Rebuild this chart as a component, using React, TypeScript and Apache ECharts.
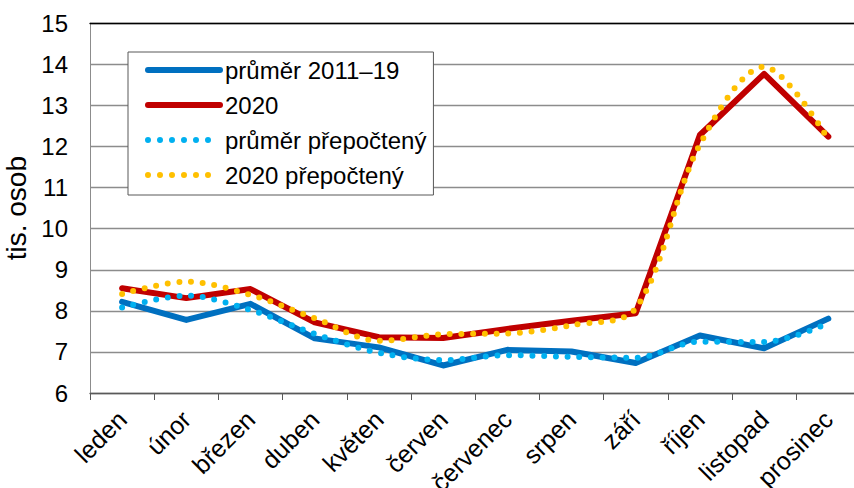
import React, { useEffect, useRef } from "react";
import * as echarts from "echarts";

const months = ["leden", "únor", "březen", "duben", "květen", "červen", "červenec", "srpen", "září", "říjen", "listopad", "prosinec"];
const avg2011_19 = [8.22, 7.78, 8.17, 7.33, 7.11, 6.67, 7.05, 7.01, 6.73, 7.4, 7.09, 7.81];
const y2020 = [8.55, 8.31, 8.53, 7.72, 7.36, 7.34, 7.56, 7.76, 7.94, 12.28, 13.77, 12.24];
const avgAdj = [8.08, 8.37, 8.02, 7.44, 6.98, 6.8, 6.92, 6.88, 6.86, 7.25, 7.24, 7.7];
const y2020Adj = [8.41, 8.71, 8.39, 7.82, 7.27, 7.43, 7.45, 7.65, 8.06, 12.05, 13.94, 12.17];
const yTicks = { min: 6, max: 15, interval: 1 };

const FONT = "'Liberation Sans', Arial, sans-serif";
const DOTS = [0, 11.7];

export default function App() {
  const ref = useRef<HTMLDivElement>(null);
  useEffect(() => {
    document.body.style.margin = "0";
    const chart = echarts.init(ref.current!, undefined, { renderer: "svg" });
    const solid = (name: string, data: number[], color: string) => ({
      name,
      type: "line",
      data,
      symbol: "none",
      smooth: false,
      lineStyle: { color, width: 6, cap: "round", join: "round" },
      itemStyle: { color },
    });
    const dotted = (name: string, data: number[], color: string) => ({
      name,
      type: "line",
      data,
      symbol: "none",
      smooth: 0.33,
      lineStyle: { color, width: 6, type: DOTS, cap: "round" },
      itemStyle: { color },
    });
    chart.setOption({
      animation: false,
      textStyle: { fontFamily: FONT, color: "#000" },
      grid: { left: 90, top: 23.3, right: -6.4, bottom: 95, containLabel: false, outerBoundsMode: "none" },
      legend: {
        orient: "vertical",
        left: 128,
        top: 52,
        padding: [6, 7, 8, 17],
        itemWidth: 72,
        itemHeight: 14,
        itemGap: 11,
        backgroundColor: "#fff",
        borderColor: "#595959",
        borderWidth: 1,
        itemStyle: { opacity: 0 },
        textStyle: { fontSize: 24, color: "#000", fontFamily: FONT },
        data: [
          { name: "průměr 2011–19", lineStyle: { width: 6, cap: "round" } },
          { name: "2020", lineStyle: { width: 6, cap: "round" } },
          { name: "průměr přepočtený", lineStyle: { width: 6, cap: "round", type: [0, 12] } },
          { name: "2020 přepočtený", lineStyle: { width: 6, cap: "round", type: [0, 12] } },
        ],
      },
      xAxis: [
        {
          type: "category",
          data: months,
          boundaryGap: true,
          axisLine: { lineStyle: { color: "#595959", width: 1.3 } },
          axisTick: { show: true, length: 7, lineStyle: { color: "#595959" } },
          axisLabel: { interval: 0, rotate: 45, fontSize: 25, color: "#000", margin: 22, fontFamily: FONT },
        },
        {
          type: "category",
          data: months,
          position: "top",
          axisLine: { lineStyle: { color: "#000", width: 1.3 } },
          axisTick: { show: false },
          axisLabel: { show: false },
        },
      ],
      yAxis: {
        type: "value",
        min: yTicks.min,
        max: yTicks.max,
        interval: yTicks.interval,
        name: "tis. osob",
        nameLocation: "middle",
        nameGap: 55,
        nameTextStyle: { fontSize: 28, color: "#000", fontFamily: FONT },
        axisLine: { show: true, lineStyle: { color: "#8c8c8c" } },
        axisTick: { show: false },
        axisLabel: { fontSize: 24, color: "#000", margin: 22, fontFamily: FONT },
        splitLine: { show: true, lineStyle: { color: "#8c8c8c", width: 1.3 } },
      },
      series: [
        solid("průměr 2011–19", avg2011_19, "#0070C0"),
        solid("2020", y2020, "#C00000"),
        dotted("průměr přepočtený", avgAdj, "#00B0F0"),
        dotted("2020 přepočtený", y2020Adj, "#FFC000"),
      ],
    });
    return () => chart.dispose();
  }, []);
  return <div ref={ref} style={{ width: 854, height: 488 }} />;
}
